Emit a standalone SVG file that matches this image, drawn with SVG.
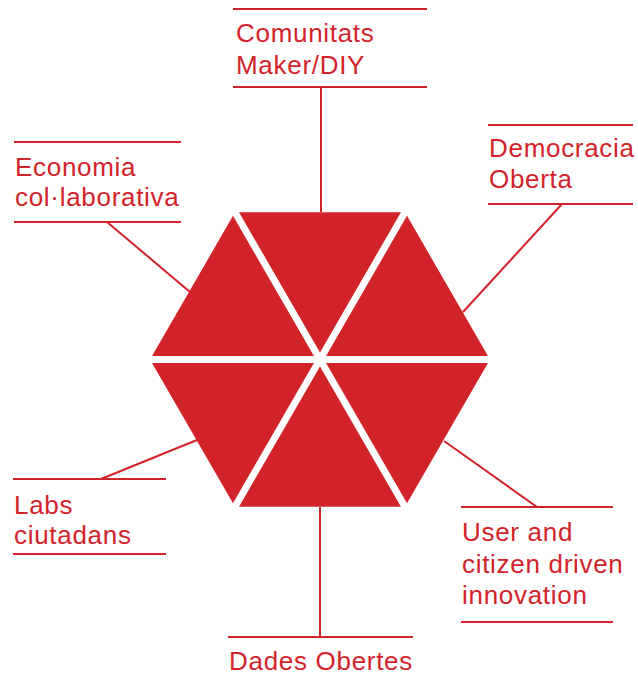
<svg xmlns="http://www.w3.org/2000/svg" width="638" height="681" viewBox="0 0 638 681">
<style>
.t{font-family:"Liberation Sans",Arial,sans-serif;font-size:26px;fill:#D2232A;letter-spacing:0.7px}
.r{stroke:#D2232A;stroke-width:2;fill:none}
.gap{stroke:#fff;stroke-width:7}
</style>
<rect width="638" height="681" fill="#fff"/>
<g id="hexagon">
<polygon points="490,359.5 405,212.3 235,212.3 150,359.5 235,506.7 405,506.7" fill="#D2232A"/>
<line class="gap" x1="140" y1="359.5" x2="500" y2="359.5"/>
<line class="gap" x1="230" y1="203.6" x2="410" y2="515.4"/>
<line class="gap" x1="410" y1="203.6" x2="230" y2="515.4"/>
</g>
<g id="connectors" class="r">
<line x1="321" y1="87" x2="321" y2="212"/>
<line x1="562" y1="204" x2="463" y2="312"/>
<line x1="107" y1="222" x2="190" y2="292"/>
<line x1="101" y1="479" x2="197" y2="440"/>
<line x1="537" y1="507" x2="444" y2="441"/>
<line x1="320" y1="507" x2="320" y2="637"/>
</g>
<g id="comunitats">
<line class="r" x1="233" y1="9" x2="427" y2="9"/>
<line class="r" x1="233" y1="87" x2="427" y2="87"/>
<text class="t" x="236" y="42">Comunitats</text>
<text class="t" x="236" y="74">Maker/DIY</text>
</g>
<g id="democracia">
<line class="r" x1="488" y1="125" x2="633" y2="125"/>
<line class="r" x1="488" y1="204" x2="633" y2="204"/>
<text class="t" x="489" y="157">Democracia</text>
<text class="t" x="489" y="188">Oberta</text>
</g>
<g id="economia">
<line class="r" x1="14" y1="142" x2="181" y2="142"/>
<line class="r" x1="14" y1="222" x2="181" y2="222"/>
<text class="t" x="15" y="176">Economia</text>
<text class="t" x="15" y="206">col·laborativa</text>
</g>
<g id="labs">
<line class="r" x1="13" y1="479" x2="166" y2="479"/>
<line class="r" x1="13" y1="554" x2="166" y2="554"/>
<text class="t" x="14" y="514">Labs</text>
<text class="t" x="14" y="544">ciutadans</text>
</g>
<g id="user">
<line class="r" x1="461" y1="507" x2="613" y2="507"/>
<line class="r" x1="461" y1="622" x2="613" y2="622"/>
<text class="t" x="462" y="541">User and</text>
<text class="t" x="462" y="573">citizen driven</text>
<text class="t" x="462" y="604">innovation</text>
</g>
<g id="dades">
<line class="r" x1="228" y1="637" x2="413" y2="637"/>
<text class="t" x="229" y="670">Dades Obertes</text>
</g>
</svg>
